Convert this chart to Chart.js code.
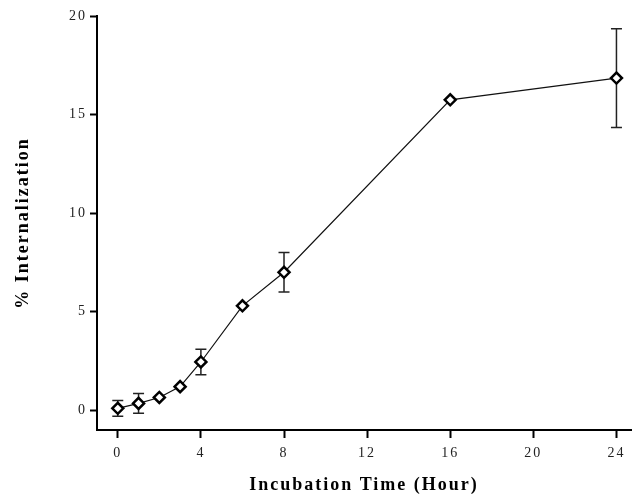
<!DOCTYPE html>
<html>
<head>
<meta charset="utf-8">
<script src="https://cdn.jsdelivr.net/npm/chart.js@4/dist/chart.umd.min.js"></script>
<style>
  html, body { margin: 0; padding: 0; background: #fff; }
  canvas { display: block; }
</style>
</head>
<body>
<canvas id="uptakeChart" width="632" height="499"></canvas>
<script>
// Values
const hours = [0, 1, 2, 3, 4, 6, 8, 16, 24];
const internalization = [0.1, 0.35, 0.65, 1.2, 2.45, 5.3, 7.0, 15.75, 16.85];
const errorSize = [0.4, 0.5, 0, 0, 0.65, 0, 1.0, 0, 2.5];
const xTicks = [0, 4, 8, 12, 16, 20, 24];
const yTicks = [0, 5, 10, 15, 20];

const points = hours.map((h, i) => ({ x: h, y: internalization[i] }));

// draws the vertical error bars with small caps
const errorBars = {
    id: 'errorBars',
    beforeDatasetsDraw(chart) {
        const { ctx, scales: { x, y } } = chart;
        ctx.save();
        ctx.strokeStyle = '#222';
        ctx.lineWidth = 1.5;
        hours.forEach((h, i) => {
            const err = errorSize[i];
            if (!err) return;
            const px = x.getPixelForValue(h);
            const top = y.getPixelForValue(internalization[i] + err);
            const bot = y.getPixelForValue(internalization[i] - err);
            ctx.beginPath();
            ctx.moveTo(px, top);
            ctx.lineTo(px, bot);
            ctx.moveTo(px - 5.5, top);
            ctx.lineTo(px + 5.5, top);
            ctx.moveTo(px - 5.5, bot);
            ctx.lineTo(px + 5.5, bot);
            ctx.stroke();
        });
        ctx.restore();
    }
};

// the printed figure has wide letter spacing on all its text
const spacing = {
    id: 'spacing',
    beforeDraw(chart) {
        chart.ctx.letterSpacing = '2px';
    }
};

new Chart(document.getElementById('uptakeChart'), {
    type: 'line',
    data: {
        datasets: [{
            data: points,
            borderColor: '#111',
            borderWidth: 1.2,
            tension: 0,
            clip: false,
            pointStyle: 'rectRot',
            pointRadius: 5.5,
            pointBorderWidth: 2.5,
            pointBackgroundColor: '#fff',
            pointBorderColor: '#000'
        }]
    },
    options: {
        responsive: false,
        animation: false,
        layout: { autoPadding: false, padding: { top: 16, right: 1, left: 0, bottom: 0 } },
        plugins: {
            legend: { display: false },
            tooltip: { enabled: false }
        },
        scales: {
            x: {
                type: 'linear',
                min: -1,
                max: 24.7,
                afterBuildTicks: (scale) => { scale.ticks = xTicks.map(v => ({ value: v })); },
                afterFit: (scale) => {
                    scale.height = 69;
                    scale.paddingLeft = 0;
                    scale.paddingRight = 0;
                },
                grid: { drawOnChartArea: false, tickLength: 8, tickWidth: 2, tickColor: '#000' },
                border: { display: true, width: 2, color: '#000' },
                ticks: {
                    color: '#222',
                    padding: 7,
                    font: { family: 'Liberation Serif', size: 14 }
                },
                title: {
                    display: true,
                    text: 'Incubation Time (Hour)',
                    color: '#000',
                    padding: { top: 0, bottom: 3 },
                    font: { family: 'Liberation Serif', size: 18, weight: 'bold' }
                }
            },
            y: {
                min: -1,
                max: 20,
                afterBuildTicks: (scale) => { scale.ticks = yTicks.map(v => ({ value: v })); },
                afterFit: (scale) => { scale.width = 97; },
                grid: { drawOnChartArea: false, tickLength: 7, tickWidth: 2, tickColor: '#000' },
                border: { display: true, width: 2, color: '#000' },
                ticks: {
                    color: '#222',
                    padding: 3,
                    font: { family: 'Liberation Serif', size: 14 }
                },
                title: {
                    display: true,
                    text: '% Internalization',
                    color: '#000',
                    padding: { top: 13, bottom: 0 },
                    font: { family: 'Liberation Serif', size: 18, weight: 'bold' }
                }
            }
        }
    },
    plugins: [errorBars, spacing]
});
</script>
</body>
</html>
